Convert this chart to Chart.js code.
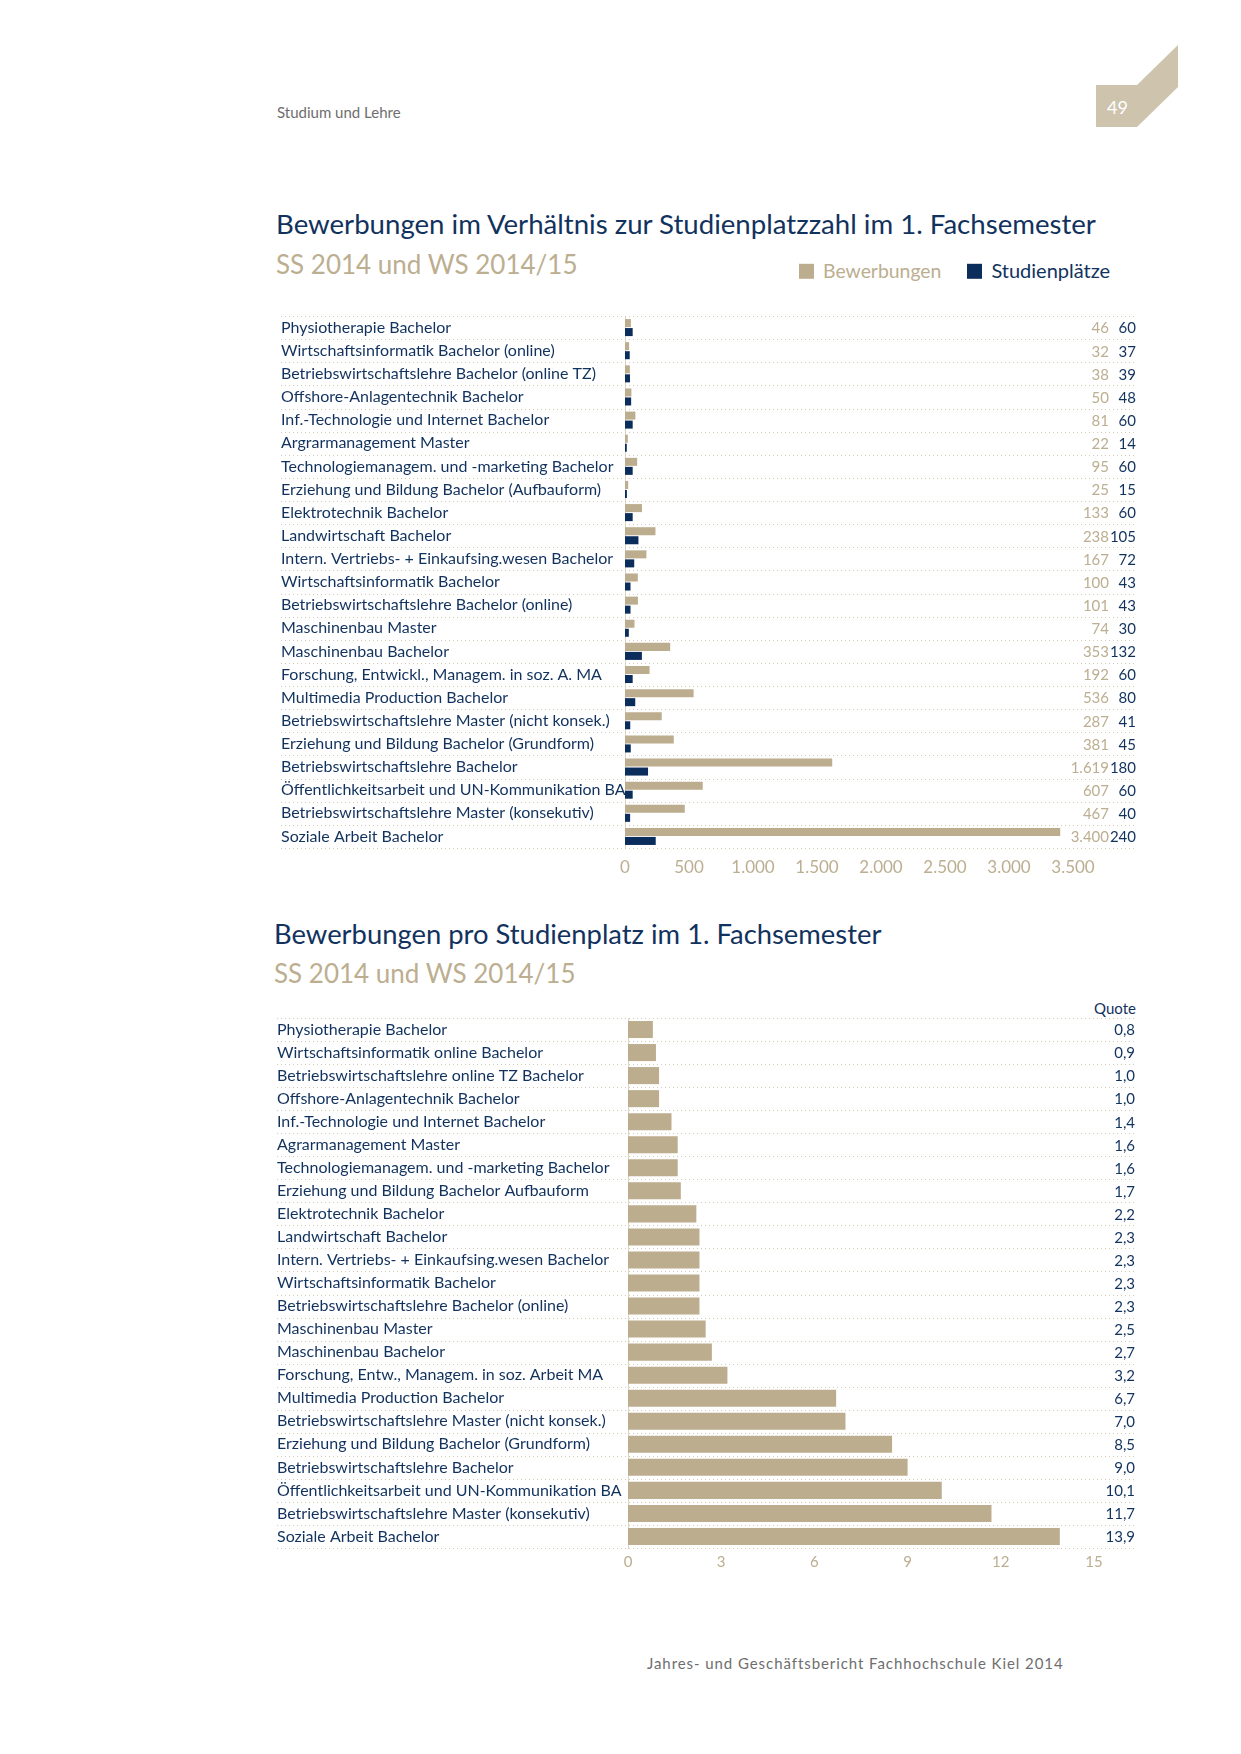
<!DOCTYPE html>
<html>
<head>
    <title>Bewerbungen im Verhältnis zur Studienplatzzahl</title>
    <meta charset="utf-8">
    <script src="https://cdn.jsdelivr.net/npm/chart.js@4"></script>
    <style>
        body {
            margin: 0;
            width: 1241px;
            height: 1754px;
            position: relative;
            background: #fff;
            font-family: Lato, "Liberation Sans", sans-serif;
        }
        .abs { position: absolute; white-space: nowrap; line-height: 1; }
        .navy { color: #12325e; }
        .tan { color: #bcae90; }
        .mid { transform: translateY(-50%); }
        .sq { display: inline-block; width: 15px; height: 15px; margin-right: 9px; vertical-align: -1px; }
        canvas { position: absolute; }
    </style>
</head>
<body>
    <div class="abs mid" style="left:277px; top:112px; font-size:15px; color:#6e6e6e;">Studium und Lehre</div>
    <svg class="abs" style="left:1090px; top:40px;" width="95" height="92">
        <polygon points="6,45 47,45 88,5 88,47 47,87 6,87" fill="#cec3ad"></polygon>
        <text x="17" y="74" font-size="18" fill="#ffffff" font-family="Lato, Liberation Sans, sans-serif">49</text>
    </svg>

    <div class="abs mid navy" style="left:276px; top:224px; font-size:27.6px;">Bewerbungen im Verhältnis zur Studienplatzzahl im 1. Fachsemester</div>
    <div class="abs mid tan" style="left:276px; top:264px; font-size:26px;">SS 2014 und WS 2014/15</div>
    <div class="abs mid" style="left:799px; top:270px; font-size:19.4px;">
        <span class="tan"><span class="sq" style="background:#bcad8e"></span>Bewerbungen</span>
        <span class="navy" style="margin-left:21px; font-size:20px;"><span class="sq" style="background:#0b2d5b"></span>Studienplätze</span>
    </div>
    <canvas id="chart1" width="859" height="580" style="left:281px; top:306px;"></canvas>

    <div class="abs mid navy" style="left:274px; top:934px; font-size:27.4px;">Bewerbungen pro Studienplatz im 1. Fachsemester</div>
    <div class="abs mid tan" style="left:274px; top:973px; font-size:26px;">SS 2014 und WS 2014/15</div>
    <div class="abs mid navy" style="right:105px; top:1008px; font-size:15px;">Quote</div>
    <canvas id="chart2" width="863" height="572" style="left:277px; top:1008px;"></canvas>

    <div class="abs mid" style="left:647px; top:1663px; font-size:15px; letter-spacing:0.93px; color:#6e6e6e;">Jahres- und Geschäftsbericht Fachhochschule Kiel 2014</div>

    <script>
        const TAN = '#bcad8e';
        const NAVY = '#0b2d5b';
        const TEXT_NAVY = '#12325e';
        const TEXT_TAN = '#bcae90';
        const FONT = 'Lato, "Liberation Sans", sans-serif';

        // Chart 1: Bewerbungen und Studienplätze
        const studiengaenge1 = [
            'Physiotherapie Bachelor',
            'Wirtschaftsinformatik Bachelor (online)',
            'Betriebswirtschaftslehre Bachelor (online TZ)',
            'Offshore-Anlagentechnik Bachelor',
            'Inf.-Technologie und Internet Bachelor',
            'Argrarmanagement Master',
            'Technologiemanagem. und -marketing Bachelor',
            'Erziehung und Bildung Bachelor (Aufbauform)',
            'Elektrotechnik Bachelor',
            'Landwirtschaft Bachelor',
            'Intern. Vertriebs- + Einkaufsing.wesen Bachelor',
            'Wirtschaftsinformatik Bachelor',
            'Betriebswirtschaftslehre Bachelor (online)',
            'Maschinenbau Master',
            'Maschinenbau Bachelor',
            'Forschung, Entwickl., Managem. in soz. A. MA',
            'Multimedia Production Bachelor',
            'Betriebswirtschaftslehre Master (nicht konsek.)',
            'Erziehung und Bildung Bachelor (Grundform)',
            'Betriebswirtschaftslehre Bachelor',
            'Öffentlichkeitsarbeit und UN-Kommunikation BA',
            'Betriebswirtschaftslehre Master (konsekutiv)',
            'Soziale Arbeit Bachelor'
        ];
        const bewerbungen = [46, 32, 38, 50, 81, 22, 95, 25, 133, 238, 167, 100, 101, 74, 353, 192, 536, 287, 381, 1619, 607, 467, 3400];
        const studienplaetze = [60, 37, 39, 48, 60, 14, 60, 15, 60, 105, 72, 43, 43, 30, 132, 60, 80, 41, 45, 180, 60, 40, 240];
        const xTicks1 = { min: 0, max: 3500, step: 500 };

        // Chart 2: Quote
        const studiengaenge2 = [
            'Physiotherapie Bachelor',
            'Wirtschaftsinformatik online Bachelor',
            'Betriebswirtschaftslehre online TZ Bachelor',
            'Offshore-Anlagentechnik Bachelor',
            'Inf.-Technologie und Internet Bachelor',
            'Agrarmanagement Master',
            'Technologiemanagem. und -marketing Bachelor',
            'Erziehung und Bildung Bachelor Aufbauform',
            'Elektrotechnik Bachelor',
            'Landwirtschaft Bachelor',
            'Intern. Vertriebs- + Einkaufsing.wesen Bachelor',
            'Wirtschaftsinformatik Bachelor',
            'Betriebswirtschaftslehre Bachelor (online)',
            'Maschinenbau Master',
            'Maschinenbau Bachelor',
            'Forschung, Entw., Managem. in soz. Arbeit MA',
            'Multimedia Production Bachelor',
            'Betriebswirtschaftslehre Master (nicht konsek.)',
            'Erziehung und Bildung Bachelor (Grundform)',
            'Betriebswirtschaftslehre Bachelor',
            'Öffentlichkeitsarbeit und UN-Kommunikation BA',
            'Betriebswirtschaftslehre Master (konsekutiv)',
            'Soziale Arbeit Bachelor'
        ];
        const quote = [0.8, 0.9, 1.0, 1.0, 1.4, 1.6, 1.6, 1.7, 2.2, 2.3, 2.3, 2.3, 2.3, 2.5, 2.7, 3.2, 6.7, 7.0, 8.5, 9.0, 10.1, 11.7, 13.9];
        const xTicks2 = { min: 0, max: 15, step: 3 };

        function fmtThousands(n) {
            return String(n).replace(/\B(?=(\d{3})+(?!\d))/g, '.');
        }
        function fmtComma(n) {
            return n.toFixed(1).replace('.', ',');
        }

        // dotted separators between rows, across the full width incl. labels
        function rowLines(rightX) {
            return {
                id: 'rowLines',
                beforeDatasetsDraw(chart) {
                    const { ctx, chartArea } = chart;
                    const n = chart.data.labels.length;
                    const step = (chartArea.bottom - chartArea.top) / n;
                    ctx.save();
                    ctx.strokeStyle = '#d3cab6';
                    ctx.lineWidth = 1;
                    ctx.setLineDash([1, 3]);
                    for (let i = 0; i <= n; i++) {
                        const y = Math.round(chartArea.top + i * step) + 0.5;
                        ctx.beginPath();
                        ctx.moveTo(0, y);
                        ctx.lineTo(rightX, y);
                        ctx.stroke();
                    }
                    ctx.restore();
                }
            };
        }

        // value columns on the right
        function valueColumns(columns) {
            return {
                id: 'valueColumns',
                afterDraw(chart) {
                    const { ctx } = chart;
                    const y = chart.scales.y;
                    ctx.save();
                    ctx.font = '15px ' + FONT;
                    ctx.textAlign = 'right';
                    ctx.textBaseline = 'middle';
                    columns.forEach(col => {
                        ctx.fillStyle = col.color;
                        col.values.forEach((v, i) => {
                            ctx.fillText(col.format(v), col.x, y.getPixelForValue(i) + 1);
                        });
                    });
                    ctx.restore();
                }
            };
        }

        new Chart(document.getElementById('chart1'), {
            type: 'bar',
            data: {
                labels: studiengaenge1,
                datasets: [
                    {
                        label: 'Bewerbungen',
                        data: bewerbungen,
                        backgroundColor: TAN,
                        categoryPercentage: 0.78,
                        barPercentage: 0.89
                    },
                    {
                        label: 'Studienplätze',
                        data: studienplaetze,
                        backgroundColor: NAVY,
                        categoryPercentage: 0.78,
                        barPercentage: 0.89
                    }
                ]
            },
            options: {
                indexAxis: 'y',
                responsive: false,
                animation: false,
                layout: { padding: { left: 0, right: 67, top: 10, bottom: 8 } },
                plugins: { legend: { display: false }, tooltip: { enabled: false } },
                scales: {
                    x: {
                        min: xTicks1.min,
                        max: xTicks1.max,
                        grid: { display: false, drawTicks: false },
                        border: { display: false },
                        ticks: {
                            stepSize: xTicks1.step,
                            color: TEXT_TAN,
                            font: { family: FONT, size: 17 },
                            padding: 9,
                            maxRotation: 0,
                            callback: v => fmtThousands(v)
                        },
                        afterFit: s => { s.height = 30; }
                    },
                    y: {
                        grid: { display: false, drawTicks: false },
                        border: { display: true, color: '#ddd5c4', width: 1 },
                        ticks: {
                            crossAlign: 'far',
                            color: TEXT_NAVY,
                            font: { family: FONT, size: 16 },
                            padding: 0,
                            autoSkip: false
                        },
                        afterFit: s => { s.width = 344; }
                    }
                }
            },
            plugins: [
                rowLines(855),
                valueColumns([
                    { values: bewerbungen, x: 828, color: TEXT_TAN, format: fmtThousands },
                    { values: studienplaetze, x: 855, color: TEXT_NAVY, format: fmtThousands }
                ])
            ]
        });

        new Chart(document.getElementById('chart2'), {
            type: 'bar',
            data: {
                labels: studiengaenge2,
                datasets: [{
                    label: 'Quote',
                    data: quote,
                    backgroundColor: TAN,
                    categoryPercentage: 1,
                    barPercentage: 0.74
                }]
            },
            options: {
                indexAxis: 'y',
                responsive: false,
                animation: false,
                layout: { padding: { left: 0, right: 46, top: 10, bottom: 8 } },
                plugins: { legend: { display: false }, tooltip: { enabled: false } },
                scales: {
                    x: {
                        min: xTicks2.min,
                        max: xTicks2.max,
                        grid: { display: false, drawTicks: false },
                        border: { display: false },
                        ticks: {
                            stepSize: xTicks2.step,
                            color: TEXT_TAN,
                            font: { family: FONT, size: 15 },
                            padding: 5,
                            maxRotation: 0
                        },
                        afterFit: s => { s.height = 24; }
                    },
                    y: {
                        grid: { display: false, drawTicks: false },
                        border: { display: true, color: '#ddd5c4', width: 1 },
                        ticks: {
                            crossAlign: 'far',
                            color: TEXT_NAVY,
                            font: { family: FONT, size: 16 },
                            padding: 0,
                            autoSkip: false
                        },
                        afterFit: s => { s.width = 351; }
                    }
                }
            },
            plugins: [
                rowLines(859),
                valueColumns([
                    { values: quote, x: 858, color: TEXT_NAVY, format: fmtComma }
                ])
            ]
        });
    </script>
</body>
</html>
